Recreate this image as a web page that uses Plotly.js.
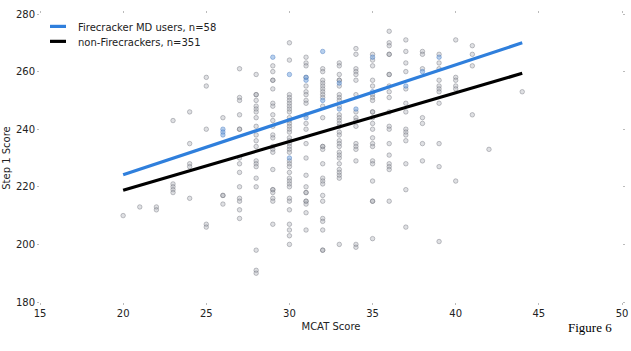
<!DOCTYPE html>
<html>
<head>
<meta charset="utf-8">
<script src="https://cdn.plot.ly/plotly-3.0.1.min.js"></script>
<style>
  html, body { margin: 0; padding: 0; background: #fff; }
  #chart { width: 631px; height: 351px; }
</style>
</head>
<body>
<div id="chart"></div>
<script>
// ---- Data ----
// Non-Firecracker students (grey points): MCAT score columns and Step 1 scores in each column
const nonFcMcatColumns = [20, 21, 22, 23, 24, 25, 26, 27, 28, 29, 30, 31, 32, 33, 34, 35, 36, 37, 38, 39, 40, 41, 42, 44];
const nonFcStep1Columns = [
  [210],
  [213],
  [213, 212],
  [243, 221, 220, 219, 218],
  [246, 235, 228, 227, 216],
  [258, 255, 240, 207, 206],
  [244, 217, 217, 214],
  [261, 251, 250, 245, 240, 240, 230, 228, 225, 220, 216, 215, 212, 209],
  [259, 252, 252, 250, 248, 247, 246, 244, 241, 238, 236, 234, 229, 228, 227, 223, 220, 198, 191, 190],
  [262, 260, 257, 257, 254, 249, 248, 245, 243, 241, 238, 237, 234, 233, 232, 226, 219, 219, 218, 216, 215, 207],
  [270, 264, 252, 251, 250, 249, 248, 247, 246, 244, 243, 242, 241, 240, 239, 237, 236, 235, 234, 233, 232, 229, 228, 227, 225, 223, 222, 221, 220, 216, 215, 212, 207, 205, 203, 200],
  [265, 263, 262, 258, 255, 253, 252, 250, 249, 245, 242, 240, 235, 230, 224, 220, 218, 218, 215, 215, 214, 211, 205],
  [261, 260, 257, 256, 255, 254, 253, 252, 251, 248, 244, 234, 234, 233, 228, 223, 222, 221, 217, 215, 209, 208, 205, 198, 198],
  [263, 262, 259, 257, 257, 255, 252, 251, 250, 248, 245, 244, 243, 242, 241, 239, 238, 236, 235, 234, 232, 231, 230, 228, 226, 225, 224, 223, 200],
  [268, 266, 261, 260, 259, 257, 252, 246, 244, 243, 241, 235, 234, 233, 229, 200, 199],
  [266, 264, 262, 257, 255, 252, 251, 250, 246, 246, 244, 242, 240, 237, 235, 234, 229, 228, 222, 215, 215, 202],
  [274, 270, 269, 266, 266, 259, 259, 255, 253, 251, 246, 241, 240, 235, 231, 228, 227, 226, 215],
  [271, 267, 263, 260, 254, 249, 246, 240, 239, 238, 236, 228, 219, 206],
  [267, 266, 261, 244, 242, 235, 229],
  [266, 263, 261, 257, 255, 254, 253, 249, 235, 227, 201],
  [271, 258, 257, 255, 254, 222],
  [269, 266, 262, 245],
  [233],
  [253]
];
// Firecracker MD users (blue points)
const fcMcat  = [26, 26, 26, 29, 30, 30, 31, 31, 31, 32, 32, 33, 33, 34, 35, 35, 37, 38, 39];
const fcStep1 = [240, 239, 238, 265, 259, 230, 258, 257, 244, 267, 250, 256, 247, 247, 265, 253, 255, 260, 265];

// Regression lines (endpoints)
const lineMcat   = [20, 44];
const fcLineY    = [224.2, 270.0];
const nonFcLineY = [218.8, 259.4];

// Legend labels
const legendLabels = ['Firecracker MD users, n=58', 'non-Firecrackers, n=351'];
const legendColors = ['#2f7fdc', '#000000'];

// Axis ticks
const xTicks = [15, 20, 25, 30, 35, 40, 45, 50];
const yTicks = [180, 200, 220, 240, 260, 280];

// flatten columns into x / y lists
const nonFcMcat = [];
const nonFcStep1 = [];
nonFcMcatColumns.forEach((m, i) => {
  nonFcStep1Columns[i].forEach(v => { nonFcMcat.push(m); nonFcStep1.push(v); });
});

const FONT = 'DejaVu Sans, sans-serif';

const traces = [
  {
    type: 'scatter', mode: 'markers', x: nonFcMcat, y: nonFcStep1,
    showlegend: false, hoverinfo: 'skip',
    marker: { size: 4.5, color: 'rgba(172,174,182,0.38)',
              line: { width: 0.8, color: 'rgba(105,108,118,0.5)' } }
  },
  {
    type: 'scatter', mode: 'markers', x: fcMcat, y: fcStep1,
    showlegend: false, hoverinfo: 'skip',
    marker: { size: 4.5, color: 'rgba(110,160,220,0.5)',
              line: { width: 0.8, color: 'rgba(70,120,190,0.55)' } }
  },
  {
    type: 'scatter', mode: 'lines', x: lineMcat, y: fcLineY,
    name: legendLabels[0], showlegend: false, hoverinfo: 'skip',
    line: { color: legendColors[0], width: 3.2 }
  },
  {
    type: 'scatter', mode: 'lines', x: lineMcat, y: nonFcLineY,
    name: legendLabels[1], showlegend: false, hoverinfo: 'skip',
    line: { color: legendColors[1], width: 3.2 }
  }
];

// manual legend (paper coordinates, plot area is 582 x 287.5 px)
const legRowY = [0.957, 0.905];
const shapes = legendColors.map((c, i) => ({
  type: 'line', xref: 'paper', yref: 'paper',
  x0: 0.0172, x1: 0.0447, y0: legRowY[i], y1: legRowY[i],
  line: { color: c, width: 3.2 }
}));
const annotations = legendLabels.map((t, i) => ({
  xref: 'paper', yref: 'paper', x: 0.0619, y: legRowY[i] - 0.003,
  xanchor: 'left', yanchor: 'middle', showarrow: false, text: t,
  font: { family: FONT, size: 10, color: '#222' }
}));
annotations.push({
  xref: 'paper', yref: 'paper', x: 0.945, y: -0.088,
  xanchor: 'center', yanchor: 'middle', showarrow: false,
  text: 'Figure 6',
  font: { family: 'Liberation Serif, Times New Roman, serif', size: 13, color: '#000' }
});

const layout = {
  width: 631, height: 351,
  margin: { l: 40, r: 9, t: 14, b: 49 },
  paper_bgcolor: '#ffffff', plot_bgcolor: '#ffffff',
  font: { family: FONT, size: 10, color: '#222' },
  showlegend: false,
  xaxis: {
    range: [15, 50], tickvals: xTicks, ticktext: xTicks.map(String),
    showgrid: false, zeroline: false, showline: false,
    ticks: 'outside', ticklen: 2, tickwidth: 1, tickcolor: '#bbbbbb',
    mirror: 'ticks',
    tickfont: { family: FONT, size: 10, color: '#222' },
    title: { text: 'MCAT Score', font: { family: FONT, size: 10, color: '#222' }, standoff: 4 }
  },
  yaxis: {
    range: [180, 280], tickvals: yTicks, ticktext: yTicks.map(String),
    showgrid: false, zeroline: false, showline: false,
    ticks: 'outside', ticklen: 2, tickwidth: 1, tickcolor: '#bbbbbb',
    mirror: 'ticks',
    tickfont: { family: FONT, size: 10, color: '#222' },
    title: { text: 'Step 1 Score', font: { family: FONT, size: 10, color: '#222' }, standoff: 3 }
  },
  shapes: shapes,
  annotations: annotations
};

Plotly.newPlot('chart', traces, layout, { displayModeBar: false, staticPlot: true });
</script>
</body>
</html>
